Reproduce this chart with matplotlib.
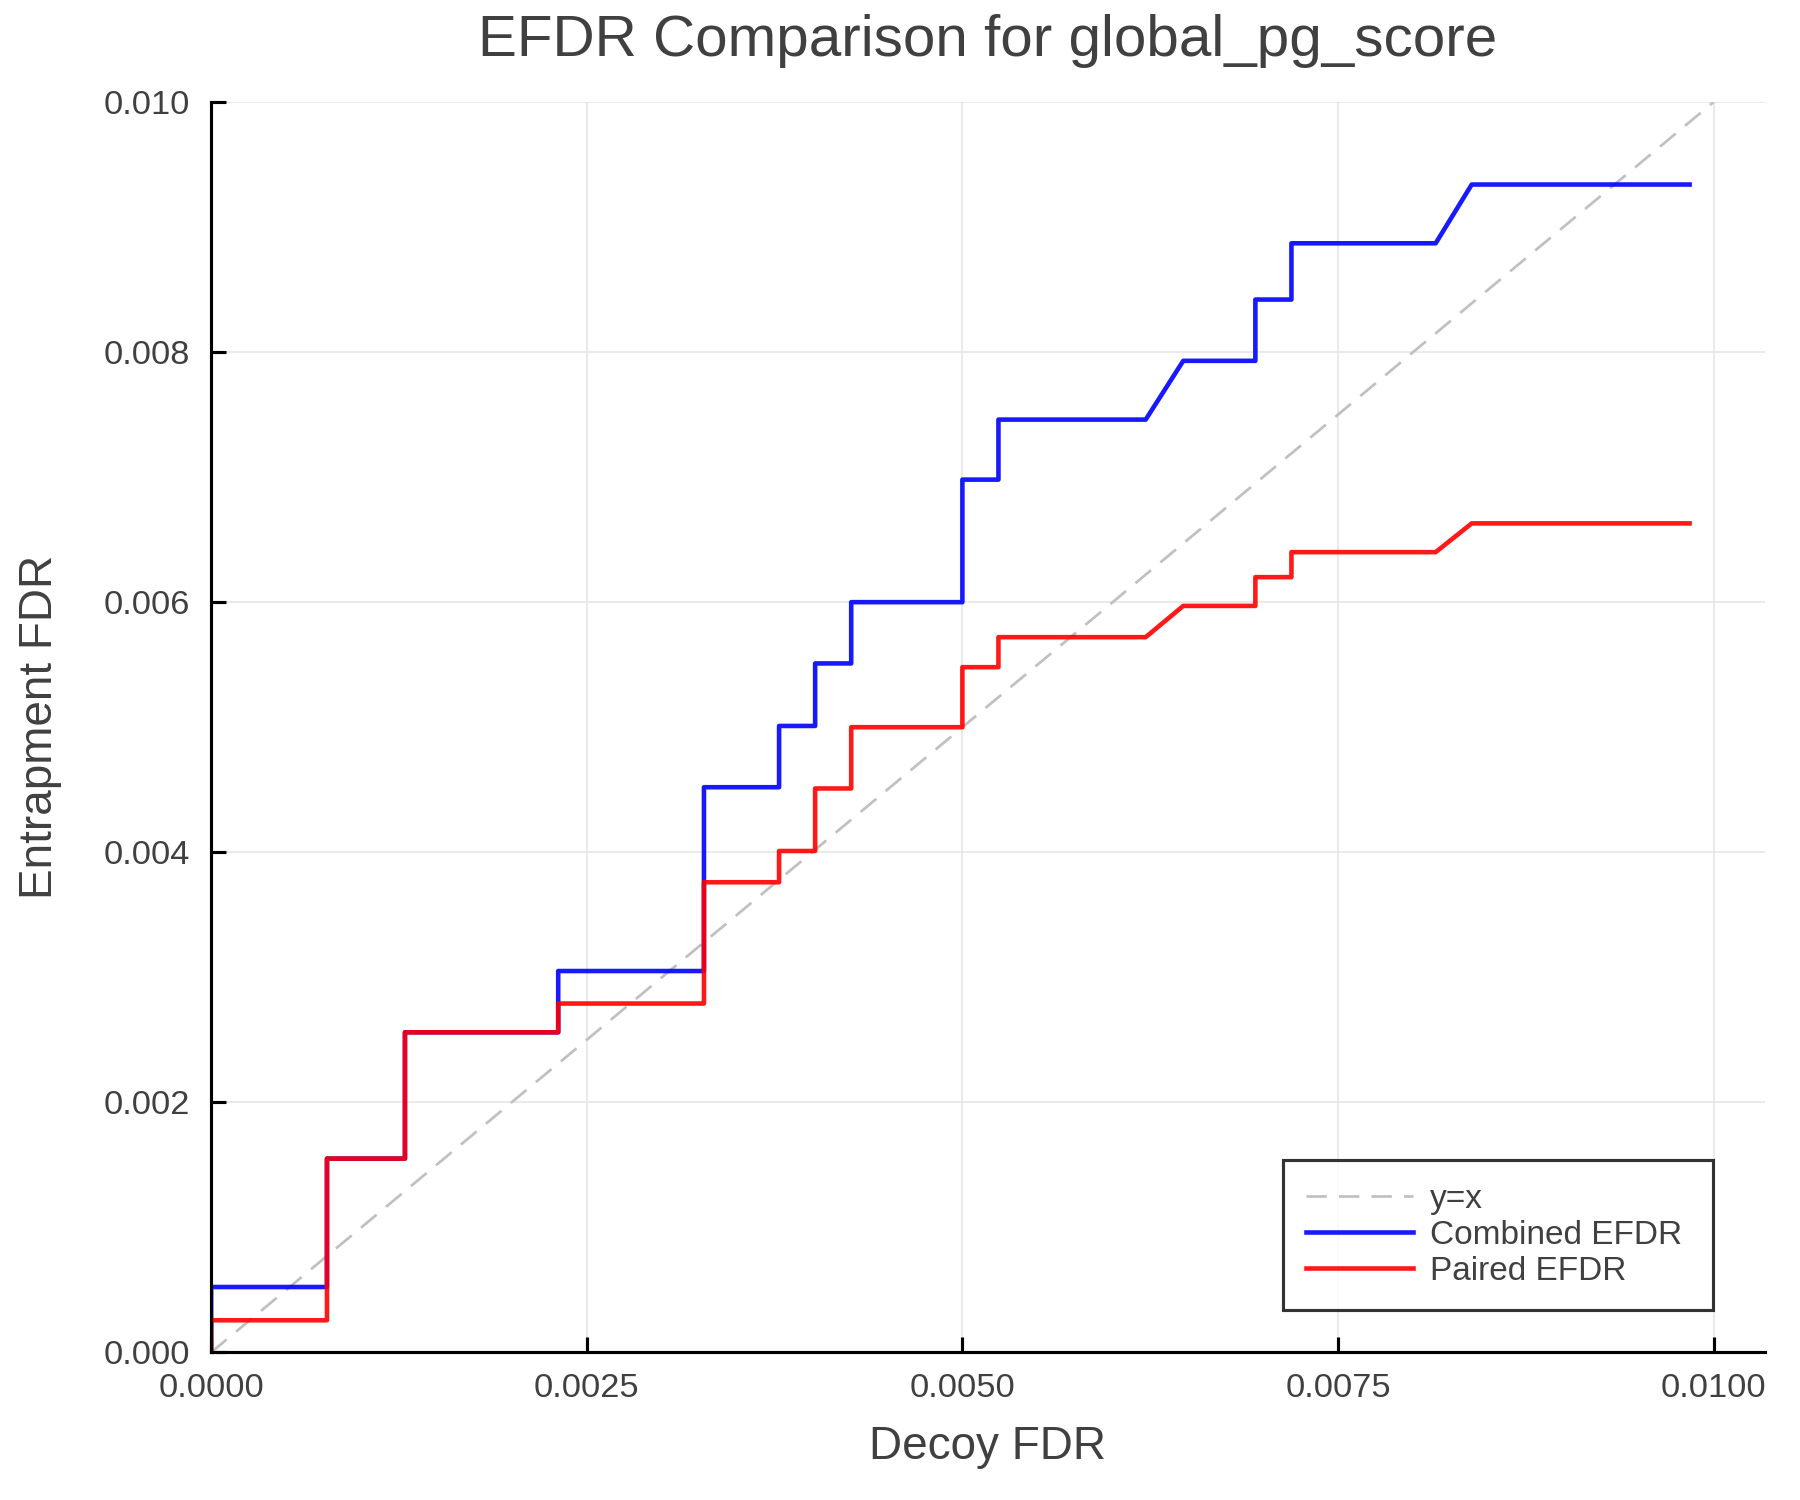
import matplotlib
matplotlib.use("Agg")
import matplotlib.pyplot as plt
from matplotlib.ticker import FormatStrFormatter

# decoy FDR (x) shared by both curves; repeated values give the vertical steps
decoy_fdr = [0.0, 0.0, 0.000771, 0.000771, 0.00129, 0.00129, 0.00231, 0.00231,
             0.00328, 0.00328, 0.00378, 0.00378, 0.00402, 0.00402, 0.00426, 0.00426,
             0.00500, 0.00500, 0.00524, 0.00524, 0.00622, 0.00647, 0.00695, 0.00695,
             0.00719, 0.00719, 0.00815, 0.00839, 0.00984]
combined_efdr = [0.0, 0.000523, 0.000523, 0.00155, 0.00155, 0.00256, 0.00256, 0.00305,
                 0.00305, 0.00452, 0.00452, 0.00501, 0.00501, 0.00551, 0.00551, 0.00600,
                 0.00600, 0.00698, 0.00698, 0.00746, 0.00746, 0.00793, 0.00793, 0.00842,
                 0.00842, 0.00887, 0.00887, 0.00934, 0.00934]
paired_efdr = [0.0, 0.000257, 0.000257, 0.00155, 0.00155, 0.00256, 0.00256, 0.00279,
               0.00279, 0.00376, 0.00376, 0.00401, 0.00401, 0.00451, 0.00451, 0.00500,
               0.00500, 0.00548, 0.00548, 0.00572, 0.00572, 0.00597, 0.00597, 0.00620,
               0.00620, 0.00640, 0.00640, 0.00663, 0.00663]
diag = [0.0, 0.01]

x_ticks = [0.0, 0.0025, 0.0050, 0.0075, 0.0100]
y_ticks = [0.0, 0.002, 0.004, 0.006, 0.008, 0.010]

TEXT = "#404040"
plt.rcParams["font.family"] = ["Liberation Sans", "DejaVu Sans"]

fig = plt.figure(figsize=(12, 10), dpi=150)
ax = fig.add_axes([0.1173, 0.0984, 0.8631, 0.8336])

ax.plot(diag, diag, color="#c0c0c0", lw=1.3, ls=(0, (7.5, 4.5)), label="y=x")
ax.plot(decoy_fdr, combined_efdr, color="blue", alpha=0.9, lw=2.2, label="Combined EFDR")
ax.plot(decoy_fdr, paired_efdr, color="red", alpha=0.9, lw=2.2, label="Paired EFDR")

ax.set_xlim(0, 0.01034)
ax.set_ylim(0, 0.010)
ax.set_xticks(x_ticks)
ax.set_yticks(y_ticks)
ax.xaxis.set_major_formatter(FormatStrFormatter("%.4f"))
ax.yaxis.set_major_formatter(FormatStrFormatter("%.3f"))
ax.grid(True, color="#e6e6e6", lw=0.8)
ax.set_axisbelow(True)

for side in ("top", "right"):
    ax.spines[side].set_visible(False)
for side in ("left", "bottom"):
    ax.spines[side].set_linewidth(1.5)
ax.tick_params(direction="in", length=7, width=1.5, labelsize=16.5,
               labelcolor=TEXT, pad=10)

ax.set_title("EFDR Comparison for global_pg_score", fontsize=28, color=TEXT, pad=22)
ax.set_xlabel("Decoy FDR", fontsize=22, color=TEXT, labelpad=10)
ax.set_ylabel("Entrapment FDR", fontsize=22, color=TEXT, labelpad=20)

# legend box stretched to the width seen in the original
leg = ax.legend(loc="lower left", bbox_to_anchor=(0.690, 0.034, 0.277, 0.12),
                mode="expand", borderaxespad=0, fontsize=16, frameon=True,
                fancybox=False, handlelength=3.2, labelspacing=0.15,
                borderpad=0.7, handletextpad=0.5)
leg.get_frame().set_edgecolor("black")
leg.get_frame().set_linewidth(1.5)
for t in leg.get_texts():
    t.set_color(TEXT)

fig.savefig("out.png", dpi=150, facecolor="white")
